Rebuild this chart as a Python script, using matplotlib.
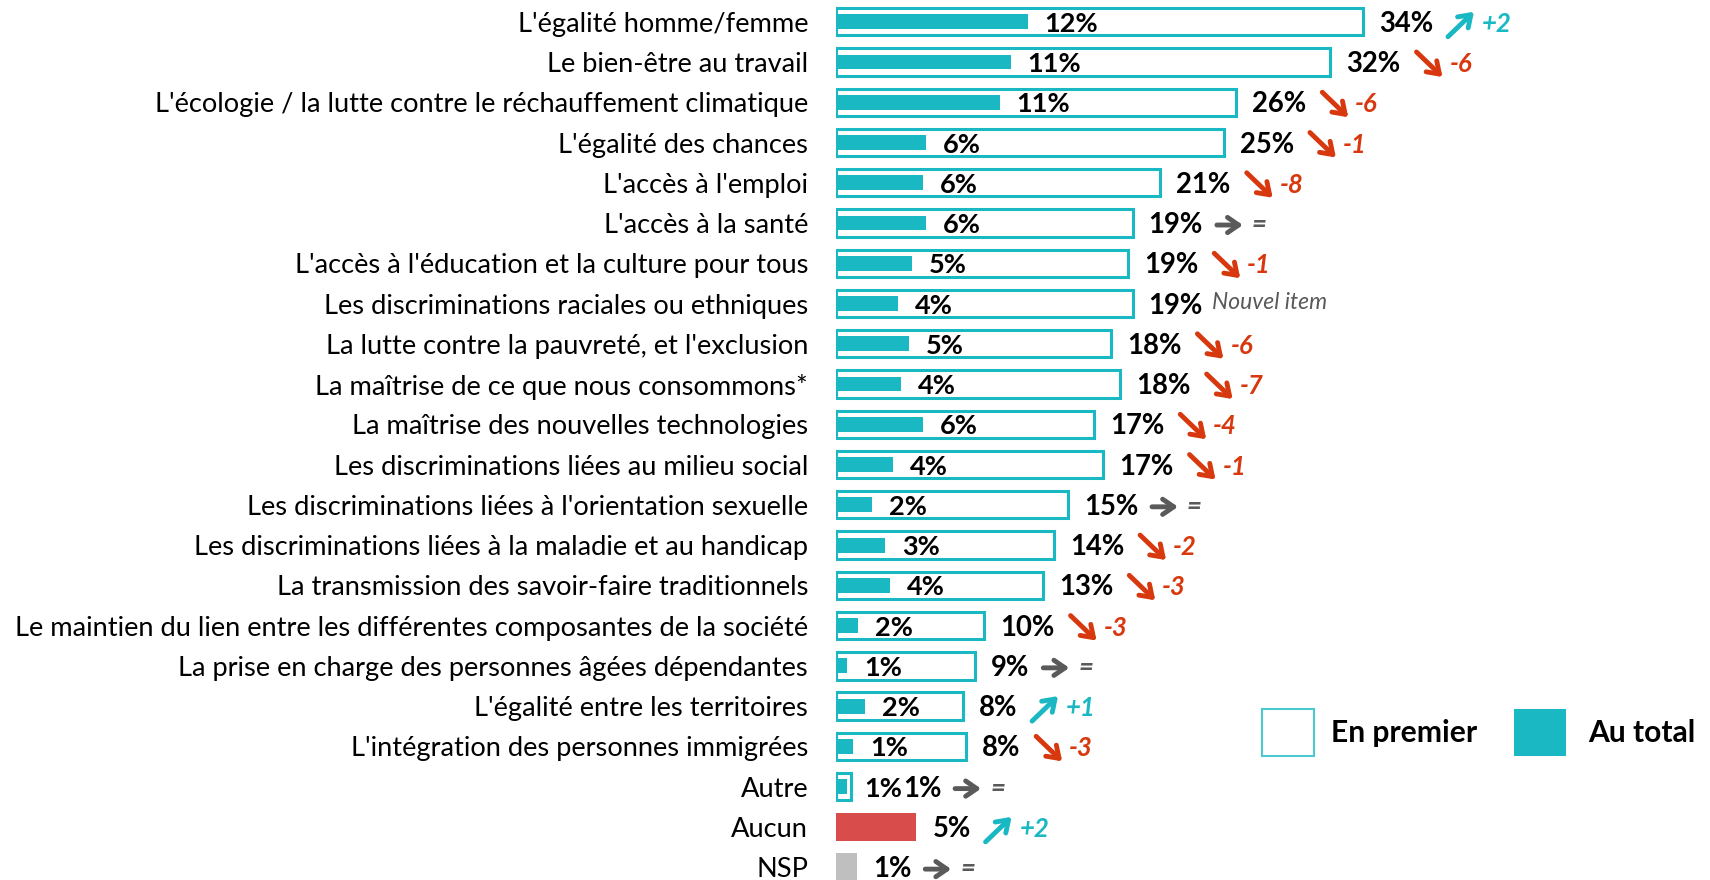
import matplotlib.pyplot as plt
from matplotlib.patches import Rectangle
from matplotlib.text import OffsetFrom

plt.rcParams['font.family'] = ['Lato', 'DejaVu Sans']

# Données
categories = [
    "L'égalité homme/femme",
    "Le bien-être au travail",
    "L'écologie / la lutte contre le réchauffement climatique",
    "L'égalité des chances",
    "L'accès à l'emploi",
    "L'accès à la santé",
    "L'accès à l'éducation et la culture pour tous",
    "Les discriminations raciales ou ethniques",
    "La lutte contre la pauvreté, et l'exclusion",
    "La maîtrise de ce que nous consommons*",
    "La maîtrise des nouvelles technologies",
    "Les discriminations liées au milieu social",
    "Les discriminations liées à l'orientation sexuelle",
    "Les discriminations liées à la maladie et au handicap",
    "La transmission des savoir-faire traditionnels",
    "Le maintien du lien entre les différentes composantes de la société",
    "La prise en charge des personnes âgées dépendantes",
    "L'égalité entre les territoires",
    "L'intégration des personnes immigrées",
    "Autre",
    "Aucun",
    "NSP",
]
# barre contour (legende "En premier")
en_premier = [34.1, 32.0, 25.9, 25.1, 21.0, 19.2, 18.9, 19.2, 17.8, 18.4,
              16.7, 17.3, 15.0, 14.1, 13.4, 9.6, 9.0, 8.2, 8.4, 1.0, 5.2, 1.35]
# barre pleine (legende "Au total") - pas de barre pleine pour Aucun / NSP
au_total = [12.4, 11.3, 10.6, 5.8, 5.6, 5.8, 4.9, 4.0, 4.7, 4.2,
            5.6, 3.7, 2.3, 3.2, 3.5, 1.4, 0.7, 1.9, 1.1, 0.7, None, None]
etiquettes_premier = ['34%', '32%', '26%', '25%', '21%', '19%', '19%', '19%', '18%', '18%',
                      '17%', '17%', '15%', '14%', '13%', '10%', '9%', '8%', '8%', '1%', '5%', '1%']
etiquettes_total = ['12%', '11%', '11%', '6%', '6%', '6%', '5%', '4%', '5%', '4%',
                    '6%', '4%', '2%', '3%', '4%', '2%', '1%', '2%', '1%', '1%', None, None]
evolution = ['+2', '-6', '-6', '-1', '-8', '=', '-1', 'Nouvel item', '-6', '-7',
             '-4', '-1', '=', '-2', '-3', '-3', '=', '+1', '-3', '=', '+2', '=']
couleurs_speciales = {20: '#D94C4C', 21: '#BFBFBF'}

teal = '#1AB8C2'
rouge = '#D8380E'
gris = '#5A5A5A'

fig = plt.figure(figsize=(17.1, 8.8), dpi=100)
ax = fig.add_axes([836 / 1710, 0, 874 / 1710, 1])

for i in range(len(categories)):
    if au_total[i] is None:
        ax.barh(i, en_premier[i], height=0.68, color=couleurs_speciales[i])
    else:
        ax.barh(i, en_premier[i], height=0.68, facecolor='white', edgecolor=teal, linewidth=2.2)
        ax.barh(i, au_total[i], height=0.37, color=teal)

    # etiquettes des valeurs
    lab_total = None
    if etiquettes_total[i] is not None:
        lab_total = ax.annotate(etiquettes_total[i], xy=(au_total[i], i), xytext=(17, -2),
                                textcoords='offset pixels', va='center', ha='left',
                                fontsize=19.5, fontweight='bold')
    if lab_total is not None and en_premier[i] - au_total[i] < 1:
        lab = ax.annotate(etiquettes_premier[i], xy=(1, 0.5), xycoords=lab_total, xytext=(1, 0),
                          textcoords='offset pixels', va='center', ha='left',
                          fontsize=19.8, fontweight='bold')
    else:
        lab = ax.annotate(etiquettes_premier[i], xy=(en_premier[i], i), xytext=(16, -2),
                          textcoords='offset pixels', va='center', ha='left',
                          fontsize=19.8, fontweight='bold')

    # fleches d'evolution
    ref = OffsetFrom(lab, (1, 0.5), unit='pixels')
    evo = evolution[i]
    if evo == 'Nouvel item':
        ax.annotate(evo, xy=(9, 3), xycoords=ref, va='center', ha='left',
                    fontsize=16.5, style='italic', color='#595959')
        continue
    if evo.startswith('+'):
        c, queue, tete = teal, (15, -13), (41, 12)
    elif evo.startswith('-'):
        c, queue, tete = rouge, (16, 12), (42, -13)
    else:
        c, queue, tete = gris, (14, 0), (40, 0)
    ax.annotate('', xy=tete, xycoords=ref, xytext=queue, textcoords=ref,
                arrowprops=dict(arrowstyle='->,head_length=0.8,head_width=0.55',
                                lw=3.5, color=c, shrinkA=0, shrinkB=0))
    ax.annotate(evo, xy=(49, 0), xycoords=ref, va='center', ha='left',
                fontsize=18.5, fontweight='bold', style='italic', color=c)

ax.set_xlim(0, 874 / 15.45)
ax.set_ylim(21.32, -0.54)
ax.set_yticks(range(len(categories)))
ax.set_yticklabels(categories, fontsize=19.6)
ax.tick_params(axis='y', length=0, pad=20)
ax.set_xticks([])
for s in ax.spines.values():
    s.set_visible(False)

# Legende
fig.add_artist(Rectangle((1262 / 1710, 124 / 880), 52 / 1710, 47 / 880, transform=fig.transFigure,
                         facecolor='white', edgecolor='#4CC8D0', linewidth=1.5))
fig.text(1331 / 1710, 147 / 880, 'En premier', fontsize=21.6, fontweight='bold', va='center')
fig.add_artist(Rectangle((1514 / 1710, 124 / 880), 52 / 1710, 47 / 880, transform=fig.transFigure,
                         facecolor=teal, edgecolor='none'))
fig.text(1588 / 1710, 147 / 880, 'Au total', fontsize=21.6, fontweight='bold', va='center')

plt.savefig('out.png', dpi=100)
